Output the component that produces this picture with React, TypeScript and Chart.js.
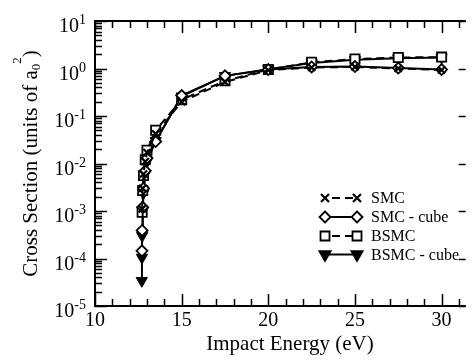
import { useEffect, useRef } from 'react';
import { Chart, registerables } from 'chart.js';

Chart.register(...registerables);

// Impact energies (eV) shared by all four calculations
const energies = [12.7, 12.71, 12.72, 12.75, 12.8, 12.9, 13.0, 13.5, 15, 17.5, 20, 22.5, 25, 27.5, 30];

// Cross sections in units of a0^2 (null = not computed at that energy)
const smcValues = [null, null, 1.1e-3, 3.0e-3, 6.0e-3, 0.011, 0.017, 0.042, 0.2, 0.52, 0.92, 1.05, 1.08, 1.0, 0.93];
const smcCubeValues = [null, 1.45e-4, 3.9e-4, 1.2e-3, 3.0e-3, 7.0e-3, 0.013, 0.029, 0.27, 0.7, 0.95, 1.08, 1.1, 1.02, 0.95];
const bsmcValues = [null, null, 9.4e-4, 2.7e-3, 5.6e-3, 0.012, 0.019, 0.05, 0.22, 0.55, 0.95, 1.35, 1.58, 1.7, 1.74];
const bsmcCubeValues = [3.4e-5, 1.05e-4, 3.0e-4, 1.0e-3, 2.4e-3, 6.0e-3, 0.011, 0.03, 0.26, 0.7, 0.97, 1.3, 1.52, 1.65, 1.7];

const seriesLabels = ['SMC', 'SMC - cube', 'BSMC', 'BSMC - cube'];

// Axis ticks
const xMajorTicks = [10, 15, 20, 25, 30];
const xMinorTicks = [11, 12, 13, 14, 16, 17, 18, 19, 21, 22, 23, 24, 26, 27, 28, 29, 31];
const yDecadeExponents = [-5, -4, -3, -2, -1, 0, 1];

const X_MIN = 10;
const X_MAX = 31.39;
const Y_MIN = 1e-5;
const Y_MAX = 10;

const FONT = "'Liberation Serif', 'Times New Roman', serif";

type MarkerKind = 'cross' | 'diamond' | 'square' | 'triangle';

function drawMarker(ctx: CanvasRenderingContext2D, kind: MarkerKind, x: number, y: number) {
  ctx.save();
  ctx.strokeStyle = '#000';
  ctx.fillStyle = '#fff';
  ctx.lineWidth = 1.8;
  ctx.beginPath();
  if (kind === 'cross') {
    const r = 4;
    ctx.lineWidth = 2.2;
    ctx.moveTo(x - r, y - r);
    ctx.lineTo(x + r, y + r);
    ctx.moveTo(x + r, y - r);
    ctx.lineTo(x - r, y + r);
    ctx.stroke();
  } else if (kind === 'diamond') {
    const r = 5.5;
    ctx.moveTo(x, y - r);
    ctx.lineTo(x + r, y);
    ctx.lineTo(x, y + r);
    ctx.lineTo(x - r, y);
    ctx.closePath();
    ctx.fill();
    ctx.stroke();
  } else if (kind === 'square') {
    const h = 4.5;
    ctx.rect(x - h, y - h, 2 * h, 2 * h);
    ctx.fill();
    ctx.stroke();
  } else {
    const r = 6.5;
    ctx.fillStyle = '#000';
    ctx.moveTo(x - r * 0.866, y - r * 0.5);
    ctx.lineTo(x + r * 0.866, y - r * 0.5);
    ctx.lineTo(x, y + r);
    ctx.closePath();
    ctx.fill();
    ctx.stroke();
  }
  ctx.restore();
}

const frameAndLabels = {
  id: 'frameAndLabels',
  afterDraw(chart: Chart) {
    const { ctx, chartArea } = chart;
    const xs = chart.scales.x;
    const ys = chart.scales.y;
    const { left, right, top, bottom } = chartArea;
    ctx.save();
    ctx.strokeStyle = '#000';
    ctx.fillStyle = '#000';

    // frame (left, bottom, top)
    ctx.lineWidth = 2;
    ctx.beginPath();
    ctx.moveTo(right, top);
    ctx.lineTo(left, top);
    ctx.lineTo(left, bottom);
    ctx.lineTo(right, bottom);
    ctx.stroke();

    // x ticks, bottom and top, pointing inward
    ctx.lineWidth = 1.5;
    ctx.beginPath();
    xMajorTicks.forEach((v) => {
      const px = Math.round(xs.getPixelForValue(v)) + 0.5;
      ctx.moveTo(px, bottom);
      ctx.lineTo(px, bottom - 12);
      ctx.moveTo(px, top);
      ctx.lineTo(px, top + 12);
    });
    xMinorTicks.forEach((v) => {
      const px = Math.round(xs.getPixelForValue(v)) + 0.5;
      ctx.moveTo(px, bottom);
      ctx.lineTo(px, bottom - 7);
      ctx.moveTo(px, top);
      ctx.lineTo(px, top + 7);
    });
    // y ticks: decades on both sides, minor ones on the left
    yDecadeExponents.forEach((e) => {
      const py = Math.round(ys.getPixelForValue(Math.pow(10, e))) + 0.5;
      ctx.moveTo(left, py);
      ctx.lineTo(left + 12, py);
      ctx.moveTo(right, py);
      ctx.lineTo(right - 7, py);
      if (e < 1) {
        for (let k = 2; k <= 9; k++) {
          const pm = Math.round(ys.getPixelForValue(k * Math.pow(10, e))) + 0.5;
          ctx.moveTo(left, pm);
          ctx.lineTo(left + 7, pm);
        }
      }
    });
    ctx.stroke();

    // x tick labels
    ctx.font = `20px ${FONT}`;
    ctx.textAlign = 'center';
    ctx.textBaseline = 'alphabetic';
    xMajorTicks.forEach((v) => {
      ctx.fillText(String(v), xs.getPixelForValue(v), bottom + 20);
    });

    // y tick labels: 10 with a raised exponent
    yDecadeExponents.forEach((e) => {
      const py = ys.getPixelForValue(Math.pow(10, e));
      const base = '10';
      const sup = String(e);
      ctx.font = `20px ${FONT}`;
      const wBase = ctx.measureText(base).width;
      ctx.font = `14px ${FONT}`;
      const wSup = ctx.measureText(sup).width;
      const xEnd = 86;
      const x0 = xEnd - wBase - wSup;
      ctx.textAlign = 'left';
      ctx.font = `20px ${FONT}`;
      ctx.fillText(base, x0, py + 11);
      ctx.font = `14px ${FONT}`;
      ctx.fillText(sup, x0 + wBase, py + 3);
    });

    // x axis title
    ctx.font = `21px ${FONT}`;
    ctx.textAlign = 'center';
    ctx.fillText('Impact Energy (eV)', 290, bottom + 44);

    // y axis title with subscript/superscript, rotated
    const segs = [
      { t: 'Cross Section (units of a', size: 21, dv: 0 },
      { t: '0', size: 13, dv: 3 },
      { t: '2', size: 13, dv: -16 },
      { t: ')', size: 21, dv: 0 },
    ];
    let total = 0;
    const widths = segs.map((s) => {
      ctx.font = `${s.size}px ${FONT}`;
      const w = ctx.measureText(s.t).width;
      total += w;
      return w;
    });
    ctx.save();
    ctx.translate(30, (top + bottom) / 2);
    ctx.rotate(-Math.PI / 2);
    ctx.textAlign = 'left';
    let u = -total / 2;
    segs.forEach((s, i) => {
      ctx.font = `${s.size}px ${FONT}`;
      ctx.fillText(s.t, u, 7 + s.dv);
      u += widths[i];
    });
    ctx.restore();

    // legend
    const kinds: MarkerKind[] = ['cross', 'diamond', 'square', 'triangle'];
    const dashed = [true, false, true, false];
    const rowY = [198, 217, 236, 254.5];
    const lx0 = 325;
    const lx1 = 357;
    seriesLabels.forEach((label, i) => {
      const y = rowY[i];
      ctx.save();
      ctx.lineWidth = 2;
      ctx.setLineDash(dashed[i] ? [8, 5] : []);
      ctx.lineDashOffset = dashed[i] ? -7 : 0;
      ctx.beginPath();
      ctx.moveTo(lx0, y);
      ctx.lineTo(lx1, y);
      ctx.stroke();
      ctx.restore();
      drawMarker(ctx, kinds[i], lx0, y);
      drawMarker(ctx, kinds[i], lx1, y);
      ctx.font = `16px ${FONT}`;
      ctx.textAlign = 'left';
      ctx.textBaseline = 'middle';
      ctx.fillStyle = '#000';
      ctx.fillText(label, 371, y + 1);
    });

    ctx.restore();
  },
};

function toPoints(values: (number | null)[]) {
  return energies.map((x, i) => ({ x, y: values[i] }));
}

export default function App() {
  const ref = useRef<HTMLCanvasElement>(null);

  useEffect(() => {
    const canvas = ref.current;
    if (!canvas) return;
    const line = (values: (number | null)[], label: string, extra: Record<string, unknown>) => ({
      label,
      data: toPoints(values),
      borderColor: '#000',
      borderWidth: 2,
      pointBorderColor: '#000',
      spanGaps: true,
      fill: false,
      tension: 0,
      ...extra,
    });
    const chart = new Chart(canvas, {
      type: 'line',
      data: {
        datasets: [
          line(smcValues, seriesLabels[0], {
            borderDash: [8, 5],
            pointStyle: 'crossRot',
            pointRadius: 5,
            pointBorderWidth: 2.2,
          }),
          line(smcCubeValues, seriesLabels[1], {
            pointStyle: 'rectRot',
            pointRadius: 5.5,
            pointBackgroundColor: '#fff',
            pointBorderWidth: 1.8,
          }),
          line(bsmcValues, seriesLabels[2], {
            borderDash: [8, 5],
            pointStyle: 'rect',
            pointRadius: 6.5,
            pointBackgroundColor: '#fff',
            pointBorderWidth: 1.8,
          }),
          line(bsmcCubeValues, seriesLabels[3], {
            pointStyle: 'triangle',
            pointRotation: 180,
            pointRadius: 6.5,
            pointBackgroundColor: '#000',
            pointBorderWidth: 1,
          }),
        ] as any,
      },
      options: {
        animation: false,
        responsive: false,
        devicePixelRatio: 1,
        layout: { padding: { top: 21, right: 0, left: 0, bottom: 0 } },
        plugins: { legend: { display: false }, tooltip: { enabled: false } },
        scales: {
          x: {
            type: 'linear',
            min: X_MIN,
            max: X_MAX,
            ticks: { display: false },
            grid: { display: false },
            border: { display: false },
            afterFit: (s: any) => {
              s.height = 54;
            },
          },
          y: {
            type: 'logarithmic',
            min: Y_MIN,
            max: Y_MAX,
            ticks: { display: false },
            grid: { display: false },
            border: { display: false },
            afterFit: (s: any) => {
              s.width = 95;
            },
          },
        },
      },
      plugins: [frameAndLabels],
    });
    return () => chart.destroy();
  }, []);

  return (
    <div style={{ position: 'fixed', left: 0, top: 0, width: 474, height: 360, background: '#fff' }}>
      <canvas ref={ref} width={474} height={360} style={{ display: 'block' }} />
    </div>
  );
}
